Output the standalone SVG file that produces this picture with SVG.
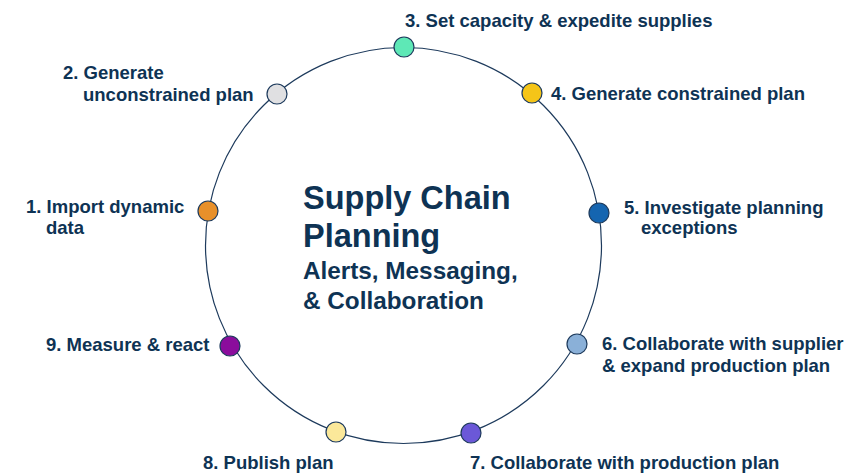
<svg xmlns="http://www.w3.org/2000/svg" width="852" height="473" viewBox="0 0 852 473">
<style>
.lbl{font-family:"Liberation Sans",Arial,sans-serif;font-weight:bold;font-size:18.5px;fill:#0e3354}
.t1{font-family:"Liberation Sans",Arial,sans-serif;font-weight:bold;font-size:32.5px;fill:#0e3354}
.t2{font-family:"Liberation Sans",Arial,sans-serif;font-weight:bold;font-size:24.3px;fill:#0e3354}
.dot{stroke:#1d3a5c;stroke-width:1.2}
</style>
<rect width="852" height="473" fill="#ffffff"/>
<g id="connectors">
<circle cx="403.5" cy="245.5" r="198" fill="none" stroke="#1d3a5c" stroke-width="1.2"/>
</g>
<g id="center">
<text class="t1" x="303" y="209">Supply Chain</text>
<text class="t1" x="303" y="247">Planning</text>
<text class="t2" x="303" y="279">Alerts, Messaging,</text>
<text class="t2" x="303" y="309">&amp; Collaboration</text>
</g>
<g id="n1"><circle class="dot" cx="208" cy="211" r="10" fill="#e8902a"/><text class="lbl" x="26" y="213">1. Import dynamic</text><text class="lbl" x="46" y="234">data</text></g>
<g id="n2"><circle class="dot" cx="277" cy="94" r="10" fill="#e0e0e2"/><text class="lbl" x="63" y="79">2. Generate</text><text class="lbl" x="83" y="101">unconstrained plan</text></g>
<g id="n3"><circle class="dot" cx="404" cy="47" r="10" fill="#5ee8b6"/><text class="lbl" x="405" y="27">3. Set capacity &amp; expedite supplies</text></g>
<g id="n4"><circle class="dot" cx="532" cy="93" r="10" fill="#f5c518"/><text class="lbl" x="551" y="100">4. Generate constrained plan</text></g>
<g id="n5"><circle class="dot" cx="599" cy="213" r="10" fill="#1565b0"/><text class="lbl" x="624" y="214">5. Investigate planning</text><text class="lbl" x="641" y="234">exceptions</text></g>
<g id="n6"><circle class="dot" cx="577" cy="344" r="10" fill="#8ab0d8"/><text class="lbl" x="602" y="350">6. Collaborate with supplier</text><text class="lbl" x="602" y="372">&amp; expand production plan</text></g>
<g id="n7"><circle class="dot" cx="471" cy="433" r="10" fill="#6b58d8"/><text class="lbl" x="470" y="469">7. Collaborate with production plan</text></g>
<g id="n8"><circle class="dot" cx="336" cy="432" r="10" fill="#fbe89a"/><text class="lbl" x="203" y="469">8. Publish plan</text></g>
<g id="n9"><circle class="dot" cx="230" cy="346" r="10" fill="#8b0d9c"/><text class="lbl" x="46" y="351">9. Measure &amp; react</text></g>
</svg>
